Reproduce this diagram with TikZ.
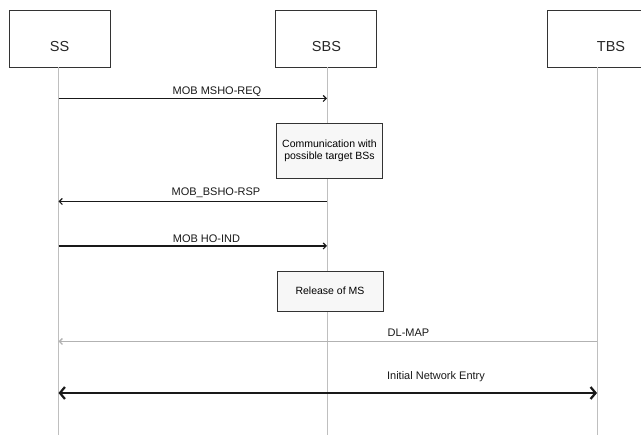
\documentclass[tikz,border=0pt]{standalone}
\usepackage{fontspec}
\setmainfont{Liberation Sans}
\usetikzlibrary{arrows}
\usetikzlibrary{arrows.meta}

\begin{document}
\begin{tikzpicture}[x=1pt, y=-1pt]

      \tikzset{entity/.style = {shape=rectangle,draw=black!80,line width=0.9pt,minimum width=101pt,minimum height=57pt,inner sep=0pt}}
      \tikzset{entityname/.style = {font=\fontsize{14.5}{16}\selectfont,text=black!85,inner sep=0pt}}
      \tikzset{action/.style = {shape=rectangle,draw=black!80,fill=black!3,line width=0.9pt,minimum width=106pt,align=center,inner sep=0pt,font=\fontsize{10.5}{12}\selectfont}}
      \tikzset{life/.style = {draw=black!25,line width=0.9pt}}
      \tikzset{msg/.style = {-{Straight Barb[length=3pt,width=6pt]},line width=1.2pt,draw=black!90}}
      \tikzset{lbl/.style = {font=\fontsize{11}{13}\selectfont,text=black!90,inner sep=0pt}}
      \useasboundingbox (0,0) rectangle (641,435);

      % entities
      \node[entity] (ss)  at (59.5,38.5) {};
      \node[entity] (sbs) at (326,38.5)  {};
      \node[entity] (tbs) at (597.5,38.5) {};
      \node[entityname] (ssname)  at (59.5,47)  {SS};
      \node[entityname] (sbsname) at (326.5,47) {SBS};
      \node[entityname] (tbsname) at (611,47)   {TBS};

      % lifeline ends
      \coordinate (ssend)  at (58.5,435);
      \coordinate (sbsend) at (327,435);
      \coordinate (tbsend) at (597,435);
      \draw[life] (ss.south -| ssend) -- (ssend);
      \draw[life] (sbs.south -| sbsend) -- (sbsend);
      \draw[life] (tbs.south -| tbsend) -- (tbsend);

      % actions
      \node[action, minimum height=55pt] (comm) at (329.5,150.5) {Communication with\\possible target BSs};
      \node[action, minimum height=40pt] (release) at (330,291) {Release of MS};

      % message points
      \coordinate (ss1)  at (58.5,98.5);
      \coordinate (sbs1) at (327,98.5);
      \coordinate (ss2)  at (58.5,201.5);
      \coordinate (sbs2) at (327,201.5);
      \coordinate (ss3)  at (58.5,246);
      \coordinate (sbs3) at (327,246);
      \coordinate (ss4)  at (58.5,341.5);
      \coordinate (tbs4) at (597,341.5);
      \coordinate (ss5)  at (58.5,393);
      \coordinate (tbs5) at (597,393);

      % messages
      \draw[msg] (ss1) -- (sbs1);
      \node[lbl] (req) at (217,92) {MOB MSHO-REQ};
      \draw[msg] (sbs2) -- (ss2);
      \node[lbl] (rsp) at (216,193) {MOB\_BSHO-RSP};
      \draw[msg] (ss3) -- (sbs3);
      \node[lbl] (ind) at (206.5,239) {MOB HO-IND};
      \draw[msg, draw=black!30, line width=1.3pt] (tbs4) -- (ss4);
      \node[lbl] (map) at (408.5,333) {DL-MAP};
      \draw[line width=1.5pt, draw=black!90, {Straight Barb[length=5pt,width=12pt,line width=2.2pt]}-{Straight Barb[length=5pt,width=12pt,line width=2.2pt]}] (ss5) -- (tbs5);
      \node[lbl] (entry) at (436,377) {Initial Network Entry};

\end{tikzpicture}
\end{document}
